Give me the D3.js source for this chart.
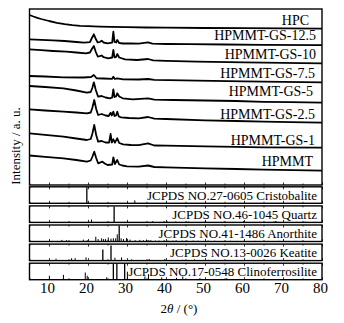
<!DOCTYPE html>
<html><head><meta charset="utf-8">
<script src="https://cdn.jsdelivr.net/npm/d3@7"></script>
<style>
body{margin:0;background:#fff}
svg{display:block}
text{font-family:"Liberation Serif","Times New Roman",serif;fill:#000}
</style>
</head><body>
<svg id="chart" width="344" height="323"></svg>
<script>
// ---------- data (2θ in degrees, intensity in a.u.) ----------
const xTickValues = [10, 20, 30, 40, 50, 60, 70, 80];
const xMinorTickValues = [5, 15, 25, 35, 45, 55, 65, 75];

const sampleNames = ["HPC", "HPMMT-GS-12.5", "HPMMT-GS-10", "HPMMT-GS-7.5",
  "HPMMT-GS-5", "HPMMT-GS-2.5", "HPMMT-GS-1", "HPMMT"];

const hpc = [[5,170],[6,168.5],[7,167.2],[8,166],[9,165],[10,164],[12,162.2],[14,160.8],[16,159.8],
  [18,159.2],[20,158.8],[23,158.4],[26,158.1],[30,157.8],[35,157.5],[40,157.3],[50,157],[60,156.8],
  [70,156.6],[80,156.4]];
const gs125 = [[5,145.7],[8,145.2],[11,144.7],[14,144],[17,143],[19,142.4],[20.5,142.8],[21,147],
  [21.5,150.7],[22,146],[22.5,142.5],[23,143],[23.5,144.3],[24,142.5],[25,141.7],[26.2,142.3],
  [26.5,153.3],[26.8,143],[27.2,142.5],[27.5,145],[28,142],[29,141.5],[31,141.7],[33,141.4],
  [35.4,142.7],[36.5,141.4],[40,141],[46,140.8],[55,140.5],[65,140.2],[80,139.8]];
const gs10 = [[5,135.7],[8,134.8],[11,134],[14.5,133.3],[17,132.5],[19.5,131.7],[20.5,132.5],[21,136],
  [21.5,139],[22,133],[22.5,128.5],[23,128.8],[23.5,129.5],[24,127.8],[25.2,126.7],[26.2,127.5],
  [26.5,135],[26.8,127.7],[27.2,128],[27.5,131],[28,127.5],[29.5,125.7],[32.6,125],[35.4,126],
  [36.7,124.7],[40,124.2],[48,123.3],[60,122.7],[70,122.2],[80,121.7]];
const gs75 = [[5,109],[9,108.5],[13.7,107.7],[18.7,107.5],[20.8,108],[21.5,110],[22.2,106.7],[24,106.5],
  [26.2,106.2],[26.5,108.3],[26.9,106],[27.5,106.7],[29,105.7],[33,105.5],[35.4,106],[37,105.2],
  [48,104.3],[60,103.7],[70,103.2],[80,102.7]];
const gs5 = [[5,99],[9,98],[13.7,96.7],[17,94.5],[19.7,92.3],[20.7,93],[21.1,97],[21.5,102.7],[22,95],
  [22.6,88.3],[23.5,89],[24.5,87.5],[25.6,86.7],[26.2,87.5],[26.5,95.7],[26.8,88],[27.2,88.5],
  [27.5,91.7],[28,88.5],[28.9,86.7],[31.5,85.7],[35.4,86.7],[37,85.4],[42,85],[50,84.5],[58,84],
  [65,83.2],[72,82.8],[80,82.3]];
const gs25 = [[5,75.7],[9,74.5],[13.7,73.3],[17,72.5],[19.7,71.7],[20.7,72.5],[21.1,77],[21.6,85],
  [22.1,76],[22.6,70],[23.5,71],[24.5,69.5],[25.3,69],[25.8,72.3],[26.1,69.5],[26.5,73.3],[26.8,69],
  [27.2,69.5],[27.5,73.3],[27.9,68.5],[28.5,67.7],[30.5,67],[33,66.7],[35.4,68],[37,66.4],[40,66],
  [50,64.7],[58,64],[65,63.3],[72,62.8],[80,62.3]];
const gs1 = [[5,51.7],[9,50.2],[13.7,48.3],[17,46.5],[19.7,45],[20.7,46],[21.1,51],[21.6,60],[22.1,50],
  [22.6,43.3],[23.5,44],[24.5,42.5],[25.4,42.3],[25.8,51],[26.1,42.5],[26.5,45.7],[26.9,42.3],
  [27.5,46.7],[28,42],[29,40.7],[31,40],[33,39.8],[35.4,41.7],[37,39.5],[40,39.3],[50,38.7],
  [58,38.2],[65,37.7],[80,37.3]];
const hpmmt = [[5,29.5],[9,28.2],[13.7,26.7],[17,25],[19.7,23.3],[20.7,24.5],[21.1,28],[21.6,33.3],
  [22.1,27],[22.6,21.7],[23.7,23.3],[24.3,21.5],[25,20],[26.2,20.5],[26.5,27.7],[26.9,21],[27.5,25],
  [28,20.5],[28.8,19.5],[30,18.7],[33,18.4],[35.4,19.5],[37,18],[40,17.7],[50,16.7],[58,16],
  [65,15.3],[80,14.3]];

const cardNames = ["JCPDS NO.27-0605 Cristobalite", "JCPDS NO.46-1045 Quartz",
  "JCPDS NO.41-1486 Anorthite", "JCPDS NO.13-0026 Keatite", "JCPDS NO.17-0548 Clinoferrosilite"];

// reference lines: [2θ, relative intensity %]
const cristobalite = [[19.7,100],[32.0,18]];
const quartz = [[20.9,18],[26.7,100],[36.6,8],[39.5,8],[40.3,6],[42.5,6],[45.8,6],[50.1,12],
  [54.9,5],[59.9,8],[64.0,4],[67.7,6],[68.1,8],[68.3,6],[73.5,3],[75.7,4],[77.7,3]];
const anorthite = [[13.3,10],[14.5,8],[18.8,12],[19.8,8],[22.0,30],[22.6,15],[23.5,20],[24.0,15],
  [24.5,15],[25.2,25],[25.9,18],[26.5,20],[27.1,20],[27.5,45],[28.0,100],[28.5,20],[29.1,15],
  [29.9,22],[30.8,12],[32.1,8],[33.3,10],[34.2,8],[35.0,12],[35.6,8],[36.1,8],[37.3,6],[38.2,6],
  [39.5,8],[40.5,6],[41.8,6],[42.6,8],[44.2,6],[45.5,5],[47.0,6],[48.2,5],[50.8,6],[52.5,5],
  [56.5,5],[58.2,4],[60.0,5],[63.0,4],[66.2,4],[69.0,4],[73.3,4],[76.0,3]];
const keatite = [[11.8,12],[15.8,15],[16.7,15],[19.5,20],[23.8,70],[25.9,95],[26.9,18],[28.6,20],
  [31.2,8],[35.7,10],[39.7,10],[44.3,5],[47.3,8],[50.8,5],[52.5,5]];
const clinoferrosilite = [[10.1,25],[13.7,30],[19.3,45],[19.8,25],[24.8,15],[26.5,100],[27.4,100],
  [29.4,100],[30.1,50],[34.6,20],[35.5,35],[38.9,15],[42.7,12],[44.3,20],[48.7,10],[55.6,10]];

// ---------- layout ----------
const svg = d3.select("#chart");
const left = 29.5, right = 322, mainTop = 9, mainBottom = 185;
const x = d3.scaleLinear().domain([5, 80]).range([left, right]);
const y = d3.scaleLinear().domain([0, 176]).range([mainBottom, mainTop]);

const series = [hpc, gs125, gs10, gs75, gs5, gs25, gs1, hpmmt];
const labelBaselines = [25, 40, 59, 78, 96, 119, 145, 166];
const labelRight = [309, 316, 316, 315, 313, 315, 315, 313];

const line = d3.line().x(d => x(d[0])).y(d => y(d[1]));

// main panel frame
svg.append("rect").attr("x", left).attr("y", mainTop)
  .attr("width", right - left).attr("height", mainBottom - mainTop)
  .attr("fill", "none").attr("stroke", "#000").attr("stroke-width", 1.4);

series.forEach((s, i) => {
  svg.append("path").datum(s).attr("d", line)
    .attr("fill", "none").attr("stroke", "#000").attr("stroke-width", 1.8)
    .attr("stroke-linejoin", "round");
  svg.append("text").attr("x", labelRight[i]).attr("y", labelBaselines[i])
    .attr("text-anchor", "end").attr("font-size", 14).text(sampleNames[i]);
});

// inward ticks
function inwardTicks(g, yPos, dir) {
  const mk = dir > 0 ? d3.axisTop : d3.axisBottom;
  g.append("g").attr("transform", `translate(0,${yPos})`)
    .call(mk(x).tickValues(xTickValues).tickSizeInner(-2.5).tickSizeOuter(0).tickFormat(""))
    .call(a => a.select(".domain").remove())
    .call(a => a.selectAll("line").attr("stroke-width", 0.8));
  g.append("g").attr("transform", `translate(0,${yPos})`)
    .call(mk(x).tickValues(xMinorTickValues).tickSizeInner(-1.5).tickSizeOuter(0).tickFormat(""))
    .call(a => a.select(".domain").remove())
    .call(a => a.selectAll("line").attr("stroke-width", 0.8));
}
inwardTicks(svg, mainBottom, -1);

// reference card panels
const cards = [cristobalite, quartz, anorthite, keatite, clinoferrosilite];
const panelH = 16.5, panelStep = 19.1, panelTop0 = 186.8;
cards.forEach((c, i) => {
  const top = panelTop0 + i * panelStep, bottom = top + panelH;
  const py = d3.scaleLinear().domain([0, 100]).range([bottom, top + 0.5]);
  const g = svg.append("g");
  g.selectAll("line.stick").data(c).join("line").attr("class", "stick")
    .attr("x1", d => x(d[0])).attr("x2", d => x(d[0]))
    .attr("y1", bottom).attr("y2", d => py(d[1]))
    .attr("stroke", "#000").attr("stroke-width", d => d[1] > 60 ? 1.3 : 1);
  inwardTicks(g, top, 1);
  inwardTicks(g, bottom, -1);
  g.append("rect").attr("x", left).attr("y", top).attr("width", right - left).attr("height", panelH)
    .attr("fill", "none").attr("stroke", "#000").attr("stroke-width", 1.4);
  g.append("text").attr("x", 317).attr("y", bottom - 3.8).attr("text-anchor", "end")
    .attr("font-size", 13).text(cardNames[i]);
});

// bottom axis labels
const lastBottom = panelTop0 + 4 * panelStep + panelH;
const ax = svg.append("g").attr("transform", `translate(0,${lastBottom})`)
  .call(d3.axisBottom(x).tickValues(xTickValues).tickSize(0).tickPadding(2.5));
ax.select(".domain").remove();
ax.selectAll("text").attr("font-size", 15).attr("font-family", "Liberation Serif")
  .attr("fill", "#000").attr("dx", -2);

// axis titles
const xt = svg.append("text").attr("x", 179).attr("y", 313).attr("text-anchor", "middle").attr("font-size", 13);
xt.append("tspan").text("2");
xt.append("tspan").attr("font-style", "italic").text("θ");
xt.append("tspan").text(" / (°)");

svg.append("text").attr("transform", "translate(20,146) rotate(-90)")
  .attr("text-anchor", "middle").attr("font-size", 13).text("Intensity / a. u.");
</script>
</body></html>
